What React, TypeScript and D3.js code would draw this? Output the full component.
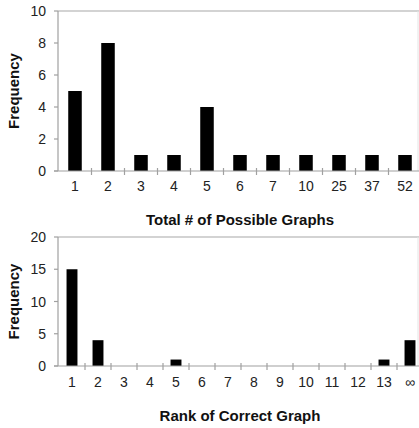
import React from "react";
import * as d3 from "d3";

const topCategories = ["1", "2", "3", "4", "5", "6", "7", "10", "25", "37", "52"];
const topValues = [5, 8, 1, 1, 4, 1, 1, 1, 1, 1, 1];
const topYTicks = [0, 2, 4, 6, 8, 10];

const bottomCategories = ["1", "2", "3", "4", "5", "6", "7", "8", "9", "10", "11", "12", "13", "∞"];
const bottomValues = [15, 4, 0, 0, 1, 0, 0, 0, 0, 0, 0, 0, 1, 4];
const bottomYTicks = [0, 5, 10, 15, 20];

const FONT = "'Liberation Sans', Arial, sans-serif";

type PanelProps = {
  cats: string[];
  vals: number[];
  yTicks: number[];
  yMax: number;
  top: number;
  bottom: number;
  xRange: [number, number];
  padding: number;
  title: string;
  labelY: number;
  titleY: number;
};

function Panel({ cats, vals, yTicks, yMax, top, bottom, xRange, padding, title, labelY, titleY }: PanelProps) {
  const x = d3.scaleBand<string>().domain(cats).range(xRange).paddingInner(padding).paddingOuter(padding / 2);
  const y = d3.scaleLinear().domain([0, yMax]).range([bottom, top]);
  const step = x.step();
  const x0 = xRange[0];
  const axisX = 58;
  return (
    <g>
      {/* top border line */}
      <line x1={axisX} x2={419} y1={y(yMax)} y2={y(yMax)} stroke="#a8a8a8" strokeWidth={1.2} />
      <line x1={418} x2={418} y1={y(yMax)} y2={y(0)} stroke="#e4e4e4" strokeWidth={1} />
      {/* y axis */}
      <line x1={axisX} x2={axisX} y1={y(yMax)} y2={y(0)} stroke="#a0a0a0" strokeWidth={1.2} />
      {yTicks.map((t) => (
        <g key={"y" + t}>
          <line x1={axisX - 4} x2={axisX} y1={y(t)} y2={y(t)} stroke="#a0a0a0" strokeWidth={1.2} />
          <text x={46} y={y(t)} dy="0.36em" textAnchor="end" fontFamily={FONT} fontSize={14} fill="#222">
            {t}
          </text>
        </g>
      ))}
      {/* bars */}
      {cats.map((c, i) =>
        vals[i] > 0 ? (
          <rect key={"b" + c} x={x(c)} y={y(vals[i])} width={x.bandwidth()} height={y(0) - y(vals[i])} fill="#000" />
        ) : null
      )}
      {/* x axis */}
      <line x1={axisX - 4} x2={419} y1={y(0)} y2={y(0)} stroke="#a0a0a0" strokeWidth={1.2} />
      {cats.slice(1).map((c, i) => (
        <line key={"xt" + c} x1={x0 + step * (i + 1)} x2={x0 + step * (i + 1)} y1={y(0) - 3} y2={y(0) + 4} stroke="#a0a0a0" strokeWidth={1.2} />
      ))}
      {cats.map((c) => (
        <text key={"xl" + c} x={(x(c) as number) + x.bandwidth() / 2} y={labelY} dy="0.36em" textAnchor="middle" fontFamily={FONT} fontSize={14} fill="#222">
          {c}
        </text>
      ))}
      <text x={240} y={titleY} dy="0.36em" textAnchor="middle" fontFamily={FONT} fontSize={15} fontWeight="bold" fill="#111">
        {title}
      </text>
      <text
        transform={`translate(14,${(y(0) + y(yMax)) / 2}) rotate(-90)`}
        dy="0.36em"
        textAnchor="middle"
        fontFamily={FONT}
        fontSize={15}
        fontWeight="bold"
        fill="#111"
      >
        Frequency
      </text>
    </g>
  );
}

export default function App() {
  return (
    <div style={{ position: "fixed", left: 0, top: 0 }}>
      <svg width={419} height={428} style={{ display: "block", background: "#fff" }}>
        <Panel
          cats={topCategories}
          vals={topValues}
          yTicks={topYTicks}
          yMax={10}
          top={11}
          bottom={171}
          xRange={[58.5, 421.5]}
          padding={0.59}
          title="Total # of Possible Graphs"
          labelY={186}
          titleY={220}
        />
        <Panel
          cats={bottomCategories}
          vals={bottomValues}
          yTicks={bottomYTicks}
          yMax={20}
          top={237}
          bottom={366}
          xRange={[59, 423]}
          padding={0.58}
          title="Rank of Correct Graph"
          labelY={382}
          titleY={416}
        />
      </svg>
    </div>
  );
}
